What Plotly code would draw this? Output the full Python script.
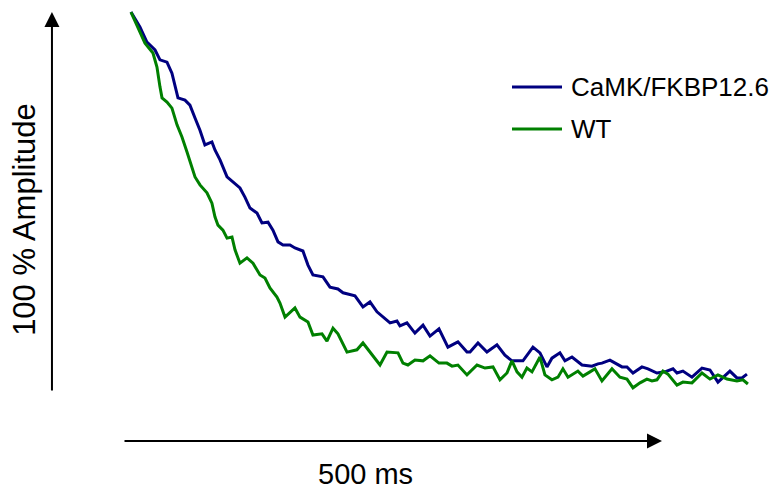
import plotly.graph_objects as go

# Time (ms) and amplitude (% of peak)
t_camk = [0, 8.3, 14.8, 22.3, 26.9, 33.4, 38.0, 40.8, 43.6, 50.1, 54.7, 59.4, 64.0, 68.6, 75.1,
          77.9, 82.6, 89.1, 94.6, 101.1, 105.7, 110.4, 116.9, 121.5, 127.1, 131.7, 136.4, 141.0,
          147.5, 152.1, 159.5, 164.2, 168.8, 178.1, 184.6, 192.0, 196.7, 207.8, 215.2, 221.7,
          228.2, 233.8, 240.3, 246.7, 249.5, 256.0, 263.4, 270.9, 277.4, 285.7, 294.0, 303.3,
          311.7, 314.5, 321.9, 330.2, 339.5, 346.9, 353.4, 363.6, 372.9, 379.4, 385.9, 390.5,
          397.9, 402.6, 409.1, 418.4, 427.6, 433.2, 436.9, 444.3, 455.5, 460.1, 465.7, 474.0,
          479.6, 487.9, 495.3, 502.8, 506.5, 512.0, 520.4, 529.7, 537.1, 544.5, 549.1, 555.6,
          562.1, 566.8, 571.4]
a_camk = [100, 96.1, 92.1, 90.0, 87.4, 86.8, 83.9, 80.3, 77.4, 76.8, 75.5, 72.1, 68.9, 65.0, 65.8,
          63.7, 61.1, 56.6, 55.3, 53.7, 51.3, 48.4, 47.1, 44.5, 44.7, 42.6, 39.5, 38.7,
          38.7, 37.9, 37.1, 33.4, 30.8, 30.3, 27.6, 27.1, 26.1, 25.3, 22.4, 23.7,
          21.1, 19.7, 18.2, 18.7, 17.4, 18.2, 15.5, 17.6, 14.7, 16.6, 11.8, 13.2,
          10.5, 10.5, 12.9, 10.5, 12.4, 9.7, 8.2, 8.2, 11.8, 10.3, 6.6, 8.9,
          10.3, 8.2, 9.2, 7.1, 6.8, 7.4, 7.6, 8.4, 6.6, 6.6, 5.0, 6.6,
          6.1, 5.0, 5.3, 6.1, 5.0, 5.5, 3.9, 6.3, 5.8, 2.6, 3.9, 5.5,
          3.7, 3.7, 4.7]

t_wt = [0, 6.5, 13.0, 20.4, 24.1, 26.9, 28.8, 33.4, 38.0, 42.7, 47.3, 51.9, 56.6, 59.4, 64.0,
        70.5, 75.1, 77.9, 80.7, 85.3, 89.1, 93.7, 96.5, 101.1, 107.6, 113.2, 119.7, 124.3,
        128.9, 135.4, 138.2, 142.9, 152.1, 156.8, 164.2, 168.8, 177.2, 181.8, 187.4, 192.0,
        200.4, 209.6, 215.2, 223.6, 231.0, 237.5, 243.0, 247.7, 252.3, 256.9, 263.4, 270.9,
        277.4, 285.7, 293.1, 297.8, 303.3, 311.7, 321.0, 328.4, 335.8, 342.3, 348.8, 353.4,
        358.1, 362.7, 367.3, 372.0, 379.4, 384.0, 390.5, 396.1, 400.7, 405.4, 414.6, 419.3,
        425.8, 430.4, 436.9, 446.2, 453.6, 460.1, 465.7, 472.2, 478.6, 483.3, 487.9, 493.5,
        498.1, 506.5, 512.0, 520.4, 529.7, 537.1, 544.5, 552.9, 562.1, 567.7, 572.3]
a_wt = [100, 96.1, 91.8, 89.2, 85.5, 80.3, 77.4, 76.3, 74.7, 70.3, 67.1, 63.2, 59.2, 56.6, 54.5,
        52.4, 49.7, 46.1, 43.9, 42.6, 40.5, 40.8, 37.4, 33.9, 35.3, 33.9, 30.8, 30.0,
        27.4, 25.0, 23.4, 19.7, 22.1, 19.7, 18.4, 15.0, 15.3, 13.4, 16.8, 15.3,
        10.5, 11.1, 12.9, 9.7, 7.1, 10.5, 10.3, 10.3, 7.6, 7.1, 8.4, 8.2,
        9.5, 7.6, 7.6, 6.8, 7.1, 4.5, 7.1, 6.3, 6.6, 3.2, 5.0, 8.2,
        5.3, 3.9, 6.3, 5.3, 9.2, 4.5, 3.2, 3.9, 6.1, 3.9, 5.5, 4.2,
        5.3, 6.1, 2.9, 6.1, 3.9, 3.4, 1.1, 2.4, 3.4, 2.9, 3.2, 5.5,
        4.7, 1.8, 2.6, 2.4, 5.0, 3.4, 4.5, 3.4, 2.9, 3.2, 2.1]

series_names = ["CaMK/FKBP12.6", "WT"]
series_colors = ["#000080", "#008000"]
y_label = "100 % Amplitude"
x_label = "500 ms"
scale_bar_ms = 500
scale_bar_pct = 100

FONT = "Liberation Sans, Arial, sans-serif"

fig = go.Figure()
for name, tt, aa, col in [(series_names[0], t_camk, a_camk, series_colors[0]),
                          (series_names[1], t_wt, a_wt, series_colors[1])]:
    fig.add_trace(go.Scatter(x=tt, y=aa, mode="lines", name=name, showlegend=False,
                             line=dict(color=col, width=3)))

# scale arrows
bar_x_start = -7.4
bar_y = -12.9
arrow_x = -73.3
fig.add_annotation(x=bar_x_start + scale_bar_ms, y=bar_y, ax=bar_x_start, ay=bar_y,
                   xref="x", yref="y", axref="x", ayref="y", text="", showarrow=True,
                   arrowhead=2, arrowsize=1.5, arrowwidth=2, arrowcolor="black")
fig.add_annotation(x=arrow_x, y=scale_bar_pct, ax=arrow_x, ay=0,
                   xref="x", yref="y", axref="x", ayref="y", text="", showarrow=True,
                   arrowhead=2, arrowsize=1.5, arrowwidth=2, arrowcolor="black")
fig.add_annotation(x=218.0, y=0, xref="x", yref="paper", yanchor="bottom",
                   text=x_label, showarrow=False, font=dict(family=FONT, size=29, color="black"))
fig.add_annotation(x=-98.3, y=45.3, xref="x", yref="y", text=y_label, textangle=-90,
                   showarrow=False, font=dict(family=FONT, size=31, color="black"))

# legend drawn as line samples + text labels
leg_y = [1 - 87 / 492, 1 - 129 / 492]
for name, col, yy in zip(series_names, series_colors, leg_y):
    fig.add_shape(type="line", xref="paper", yref="paper", x0=512 / 774, x1=562 / 774,
                  y0=yy, y1=yy, line=dict(color=col, width=3))
    fig.add_annotation(x=569 / 774, y=yy, xref="paper", yref="paper", xanchor="left",
                       yanchor="middle", text=name, showarrow=False,
                       font=dict(family=FONT, size=26, color="black"))

fig.update_layout(
    width=774, height=492,
    margin=dict(l=0, r=0, t=0, b=0),
    paper_bgcolor="white", plot_bgcolor="white",
    xaxis=dict(visible=False, range=[-121.5, 596.5]),
    yaxis=dict(visible=False, range=[-26.32, 103.16]),
    showlegend=False,
)

fig.write_html("out.html")
